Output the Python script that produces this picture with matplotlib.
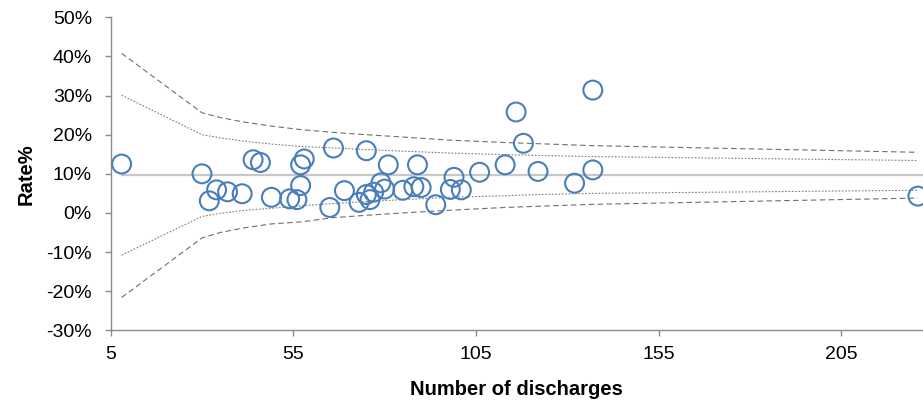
import numpy as np
import matplotlib.pyplot as plt

plt.rcParams['font.family'] = ['Liberation Sans', 'DejaVu Sans']

# hospitals: number of discharges and rate (%)
discharges = [8, 30, 32, 34, 37, 41, 44, 46, 49, 54, 56, 57, 57, 58, 65, 66, 69,
              73, 75, 75, 76, 77, 79, 80, 81, 85, 88, 89, 90, 94, 98, 99, 101,
              106, 113, 116, 118, 122, 132, 137, 137, 226]
rates = [12.5, 10.0, 3.1, 5.9, 5.4, 4.9, 13.6, 12.9, 4.0, 3.6, 3.4, 7.0, 12.3, 13.8,
         1.4, 16.6, 5.7, 2.7, 15.9, 4.7, 3.4, 5.3, 7.7, 6.1, 12.3, 5.8, 6.7, 12.3,
         6.5, 2.1, 6.0, 9.1, 5.9, 10.4, 12.3, 25.8, 17.8, 10.6, 7.6, 11.0, 31.4, 4.3]

# funnel limits read at selected discharge counts
funnel_n = [8, 30, 35, 41, 49, 57, 66, 75, 85, 98, 113, 122, 137, 226]
outer_hi = [40.8, 25.6, 24.4, 23.3, 22.2, 21.3, 20.6, 20.0, 19.4, 18.6, 18.0, 17.7, 17.2, 15.5]
inner_hi = [30.1, 20.0, 19.2, 18.4, 17.6, 17.0, 16.6, 16.2, 15.8, 15.3, 14.9, 14.7, 14.4, 13.4]
inner_lo = [-10.8, -0.9, -0.1, 0.6, 1.2, 1.8, 2.4, 2.9, 3.4, 4.0, 4.4, 4.7, 5.0, 5.8]
outer_lo = [-21.6, -6.4, -5.0, -3.9, -2.8, -2.3, -1.2, -0.6, 0.0, 0.7, 1.4, 1.7, 2.2, 3.8]
mean_rate = 9.7

fig = plt.figure(figsize=(9.23, 4.01), dpi=100)
ax = fig.add_axes([0.1199, 0.1763, 0.8801, 0.7805])

ax.plot([funnel_n[0], 228], [mean_rate, mean_rate], color='#c8c8c8', lw=1.6, zorder=1)
ax.plot(funnel_n, outer_hi, color='#6f6f6f', lw=0.8, ls=(0, (5, 3)), zorder=2)
ax.plot(funnel_n, outer_lo, color='#6f6f6f', lw=0.8, ls=(0, (5, 3)), zorder=2)
ax.plot(funnel_n, inner_hi, color='#7f7f7f', lw=0.8, ls=(0, (1.5, 1.5)), zorder=2)
ax.plot(funnel_n, inner_lo, color='#7f7f7f', lw=0.8, ls=(0, (1.5, 1.5)), zorder=2)

ax.scatter(discharges, rates, s=185, facecolors='none', edgecolors='#4a7ebb',
           linewidths=1.5, zorder=3, clip_on=False)

ax.set_xlim(5, 227.4)
ax.set_ylim(-30, 50)
ax.set_xticks([5, 55, 105, 155, 205])
ax.set_yticks(np.arange(-30, 51, 10))
ax.set_yticklabels([f'{v}%' for v in range(-30, 51, 10)])

for side in ['top', 'right']:
    ax.spines[side].set_visible(False)
for side in ['left', 'bottom']:
    ax.spines[side].set_color('#8c8c8c')
    ax.spines[side].set_linewidth(1.0)
ax.tick_params(axis='both', colors='#8c8c8c', labelcolor='black', labelsize=14,
               length=4.5, width=1.0, direction='out')
ax.tick_params(axis='x', pad=7)
ax.tick_params(axis='y', pad=9)

ax.set_xlabel('Number of discharges', fontsize=14.5, fontweight='bold', labelpad=12)
ax.set_ylabel('Rate%', fontsize=14.5, fontweight='bold', labelpad=8)

fig.savefig('out.png', dpi=100)
